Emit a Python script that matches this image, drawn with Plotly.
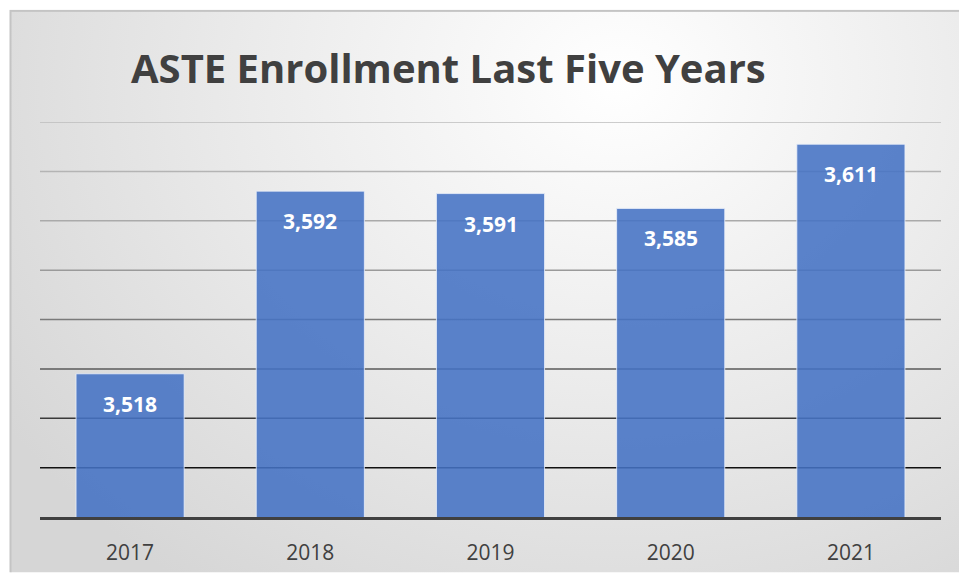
import base64
import plotly.graph_objects as go

years = ["2017", "2018", "2019", "2020", "2021"]
enrollment = [3518, 3592, 3591, 3585, 3611]
grid_values = [3480, 3500, 3520, 3540, 3560, 3580, 3600, 3620]
grid_colors = ["#111111", "#3a3a3a", "#5a5a5a", "#7a7a7a", "#9a9a9a", "#aaaaaa", "#b4b4b4", "#bdbdbd"]
y_range = [3460, 3620]
title_text = "ASTE Enrollment Last Five Years"

W, H = 959, 578
ML, MR, MT, MB = 40, 18, 122, 56
PW, PH = W - ML - MR, H - MT - MB

idx = list(range(len(years)))

# background: radial gradient panel with a thin border
svg = f'''<svg xmlns="http://www.w3.org/2000/svg" width="{W}" height="{H}" viewBox="0 0 {W} {H}">
<defs><radialGradient id="g" cx="0.62" cy="0.12" r="0.75" gradientTransform="translate(0.62 0.12) scale(1 1.4) translate(-0.62 -0.12)">
<stop offset="0" stop-color="#ffffff"/><stop offset="0.5" stop-color="#ebebeb"/><stop offset="1" stop-color="#d6d6d6"/></radialGradient></defs>
<rect x="0" y="0" width="{W}" height="{H}" fill="#ffffff"/>
<rect x="10.5" y="9.5" width="{W+20}" height="{H+20}" fill="url(#g)" stroke="#c4c4c4" stroke-width="2"/>
</svg>'''
src = "data:image/svg+xml;base64," + base64.b64encode(svg.encode()).decode()

fig = go.Figure()
fig.add_trace(go.Bar(
    x=idx, y=enrollment,
    marker=dict(color="rgba(68,114,196,0.88)", line=dict(color="rgba(235,240,250,0.8)", width=1)),
    hoverinfo="skip",
))

for v, c in zip(grid_values, grid_colors):
    fig.add_shape(type="line", xref="paper", yref="y", x0=0, x1=1, y0=v, y1=v,
                  line=dict(color=c, width=1.5), layer="below")

for i, v in zip(idx, enrollment):
    fig.add_annotation(x=i, y=v, text=f"{v:,}", showarrow=False, yanchor="top", yshift=-14,
                       font=dict(family="Open Sans", size=21, color="white", weight="bold"))

fig.add_layout_image(dict(source=src, xref="paper", yref="paper",
                          x=-ML / PW, y=1 + MT / PH, sizex=W / PW, sizey=H / PH,
                          xanchor="left", yanchor="top", sizing="stretch", layer="below"))

fig.add_annotation(text=title_text, xref="paper", yref="paper", x=(448 - ML) / PW, y=(522 - 67) / PH,
                   xanchor="center", yanchor="middle", showarrow=False,
                   font=dict(family="Open Sans", size=40, color="#404040", weight="bold"))

fig.update_layout(
    width=W, height=H,
    margin=dict(l=ML, r=MR, t=MT, b=MB),
    paper_bgcolor="white", plot_bgcolor="rgba(0,0,0,0)",
    bargap=0.4, showlegend=False,
    xaxis=dict(range=[-0.5, len(years) - 0.5], tickmode="array", tickvals=idx, ticktext=years,
               showgrid=False, showline=True, linecolor="#404040", linewidth=3, ticks="", zeroline=False,
               tickfont=dict(family="Open Sans", size=21, color="#404040"), ticklabelstandoff=15),
    yaxis=dict(range=y_range, showgrid=False, showticklabels=False, zeroline=False, fixedrange=True),
)

fig.write_html("out.html")
